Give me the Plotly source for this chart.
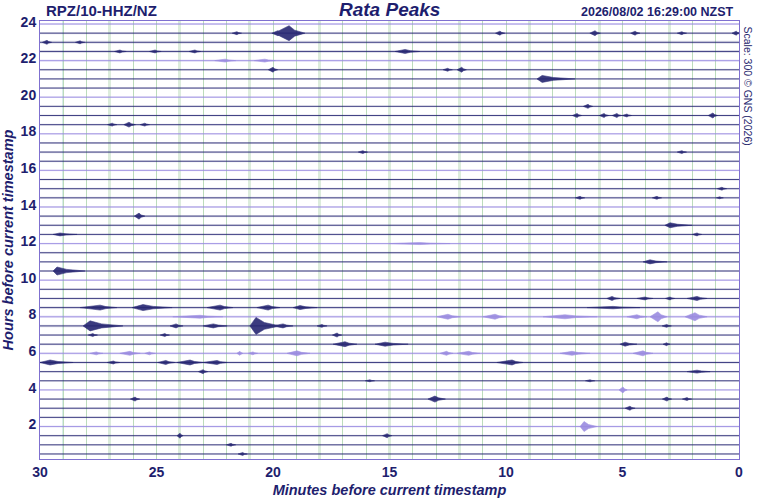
import plotly.graph_objects as go

# helicorder: 48 rows of 30 minutes, row 0 at the top (24 h ago)
n_rows = 48
row_hours = [23.875 - 0.5 * k for k in range(n_rows)]
row_colour = ["purple" if k % 4 == 0 else "navy" for k in range(n_rows)]

# background noise level per row (rough)
noise_level = [1.0, 1.2, 1.6, 1.6, 1.2, 1.0, 1.0, 1.0, 1.0, 1.0,
               1.1, 1.1, 1.0, 1.1, 1.2, 1.2, 1.0, 1.1, 1.1, 1.1,
               1.0, 1.2, 1.0, 1.1, 1.0, 1.2, 1.0, 1.1, 1.0, 1.0,
               1.1, 1.4, 1.4, 1.4, 1.1, 1.2, 1.3, 1.3, 1.1, 1.0,
               1.0, 1.1, 1.0, 1.1, 1.1, 1.1, 1.0, 1.0]

# events: row, start min, peak min, end min, amplitude (fraction of row gap)
ev_row = [1, 1, 1, 1, 1, 1, 1, 1,
          2, 2, 3, 3, 3, 3, 4, 4, 5, 5, 5, 6,
          9, 10, 10, 10, 10, 10, 11, 11, 11, 14, 14, 18, 19, 19, 19,
          21, 22, 23, 23, 24, 26, 27,
          30, 30, 30, 30,
          31, 31, 31, 31, 31, 31,
          32, 32, 32, 32, 32, 32, 32,
          33, 33, 33, 33, 33, 33, 33,
          34, 34, 34, 35, 35, 35, 35,
          36, 36, 36, 36, 36, 36, 36, 36, 36, 36,
          37, 37, 37, 37, 37, 37, 38, 38, 39, 39, 40,
          41, 41, 41, 41, 42, 44, 45, 45, 46, 47]
ev_start = [19.95, 20.05, 21.75, 10.45, 6.40, 4.65, 2.65, 0.30,
            29.90, 28.48, 26.80, 25.30, 23.60, 14.76, 22.50, 20.80, 20.20, 12.70, 12.10, 8.67,
            6.68, 7.15, 5.99, 5.44, 5.01, 1.32, 27.10, 26.40, 25.70, 16.34, 2.65, 0.93, 7.02, 3.72, 0.97,
            25.95, 3.18, 29.44, 2.00, 15.00, 4.12, 29.44,
            5.67, 4.38, 3.16, 2.23,
            28.28, 26.05, 22.83, 20.69, 19.14, 6.52,
            24.30, 12.96, 10.99, 8.41, 4.81, 3.82, 2.32,
            28.15, 20.99, 24.42, 23.00, 20.00, 18.11, 3.30,
            27.93, 24.84, 17.45, 17.42, 15.62, 5.11, 3.26,
            27.85, 26.57, 25.50, 21.55, 21.06, 19.40, 12.83, 12.10, 7.68, 4.55,
            30.00, 27.12, 24.94, 24.12, 23.00, 10.39, 23.20, 2.23, 16.04, 6.59, 5.15,
            26.12, 13.35, 3.29, 2.43, 4.89, 6.82, 24.12, 15.30, 22.00, 21.50]
ev_peak = [19.31, 19.79, 21.55, 10.26, 6.18, 4.46, 2.45, 0.12,
           29.70, 28.28, 26.57, 25.06, 23.35, 14.33, 22.05, 20.35, 20.00, 12.50, 11.90, 8.45,
           6.48, 6.95, 5.79, 5.24, 4.81, 1.12, 26.90, 26.18, 25.50, 16.14, 2.45, 0.73, 6.82, 3.52, 0.82,
           25.75, 2.96, 29.14, 1.80, 13.70, 3.82, 29.27,
           5.45, 4.03, 2.96, 1.80,
           27.42, 25.58, 22.27, 20.21, 18.84, 5.40,
           23.13, 12.49, 10.47, 7.47, 4.38, 3.48, 1.89,
           27.85, 20.73, 24.16, 22.56, 19.57, 17.90, 3.10,
           27.73, 24.64, 17.25, 16.91, 15.19, 4.89, 3.10,
           27.58, 26.14, 25.30, 21.42, 20.86, 18.97, 12.55, 11.60, 7.17, 4.12,
           29.57, 26.85, 24.60, 23.56, 22.40, 9.74, 23.00, 1.80, 15.84, 6.39, 4.98,
           25.92, 13.05, 3.09, 2.23, 4.68, 6.65, 23.99, 15.10, 21.80, 21.30]
ev_end = [18.63, 19.53, 21.35, 10.05, 5.95, 4.25, 2.25, -0.05,
          29.50, 28.08, 26.30, 24.80, 23.10, 13.70, 21.60, 19.90, 19.80, 12.30, 11.70, 7.04,
          6.28, 6.75, 5.59, 5.04, 4.61, 0.92, 26.70, 25.90, 25.30, 15.94, 2.25, 0.53, 6.62, 3.32, 0.67,
          25.50, 2.02, 28.41, 1.60, 12.40, 3.09, 28.07,
          5.11, 3.69, 2.76, 1.37,
          26.70, 24.33, 21.72, 19.70, 18.11, 4.25,
          22.15, 11.97, 9.96, 6.09, 3.95, 3.09, 1.37,
          26.44, 19.70, 23.86, 21.97, 19.14, 17.68, 2.90,
          27.53, 24.44, 17.05, 16.40, 14.20, 4.38, 2.96,
          27.30, 25.70, 25.05, 21.29, 20.66, 18.41, 12.27, 11.12, 6.39, 3.69,
          28.58, 26.57, 24.21, 23.00, 21.97, 9.27, 22.80, 1.24, 15.64, 6.19, 4.80,
          25.72, 12.60, 2.89, 2.03, 4.46, 6.10, 23.86, 14.90, 21.60, 21.10]
ev_amp = [0.82, 0.27, 0.16, 0.22, 0.27, 0.22, 0.16, 0.22,
          0.22, 0.16, 0.16, 0.16, 0.16, 0.22, 0.16, 0.16, 0.27, 0.16, 0.27, 0.38,
          0.22, 0.22, 0.22, 0.22, 0.16, 0.27, 0.16, 0.27, 0.16, 0.16, 0.16, 0.16, 0.16, 0.16, 0.11,
          0.33, 0.27, 0.16, 0.16, 0.11, 0.22, 0.44,
          0.22, 0.16, 0.16, 0.22,
          0.27, 0.33, 0.27, 0.27, 0.22, 0.13,
          0.16, 0.27, 0.27, 0.22, 0.22, 0.55, 0.44,
          0.55, 0.93, 0.22, 0.22, 0.22, 0.16, 0.16,
          0.16, 0.16, 0.22, 0.27, 0.22, 0.22, 0.16,
          0.16, 0.22, 0.16, 0.22, 0.16, 0.27, 0.22, 0.22, 0.22, 0.27,
          0.27, 0.16, 0.22, 0.27, 0.22, 0.27, 0.22, 0.16, 0.11, 0.11, 0.33,
          0.22, 0.33, 0.22, 0.16, 0.22, 0.55, 0.27, 0.22, 0.16, 0.16]

x_ticks = [30, 25, 20, 15, 10, 5, 0]
y_ticks = [2, 4, 6, 8, 10, 12, 14, 16, 18, 20, 22, 24]
marker_minutes = [29]

NAVY = "#1e1e6e"
colours = {"navy": "#262672", "purple": "#9a8be0"}
bands = {"navy": "rgba(40,40,120,0.14)", "purple": "rgba(140,125,220,0.2)"}
gap = 0.5

fig = go.Figure()

# noise band + baseline for each row
for k in range(n_rows):
    c = row_colour[k]
    h = row_hours[k]
    fig.add_trace(go.Scatter(x=[30, 0], y=[h, h], mode="lines",
                             line=dict(color=bands[c], width=1.8 * noise_level[k]),
                             hoverinfo="skip", showlegend=False))
    fig.add_trace(go.Scatter(x=[30, 0], y=[h, h], mode="lines",
                             line=dict(color=colours[c], width=0.85),
                             hoverinfo="skip", showlegend=False))

# events as envelopes
for c in ["navy", "purple"]:
    xs, ys = [], []
    for r, s, p, e, a in zip(ev_row, ev_start, ev_peak, ev_end, ev_amp):
        if row_colour[r] != c:
            continue
        h = row_hours[r]
        amp = a * gap
        mid = p - 0.35 * (p - e)
        xs += [s, p, mid, e, mid, p, s, None]
        ys += [h, h + amp, h + amp * 0.4, h, h - amp * 0.4, h - amp, h, None]
    fig.add_trace(go.Scatter(x=xs, y=ys, mode="lines", fill="toself",
                             fillcolor=colours[c], opacity=0.9,
                             line=dict(color=colours[c], width=0.6),
                             hoverinfo="skip", showlegend=False))

# 3-minute pale bands on a second axis
fig.add_trace(go.Scatter(x=[30, 0], y=[None, None], xaxis="x2", showlegend=False))

for m in marker_minutes:
    fig.add_vline(x=m, line=dict(color="#3f9f98", width=1), layer="below")

fig.update_layout(
    width=760, height=500,
    margin=dict(l=40, r=21, t=21, b=41),
    paper_bgcolor="white", plot_bgcolor="white",
    font=dict(family="Liberation Sans, Arial, sans-serif", color=NAVY),
    xaxis=dict(range=[30, 0], tickvals=x_ticks, ticks="", showgrid=False, automargin=False,
               zeroline=False, showline=True, linecolor="#7f70d0", linewidth=1, mirror=True,
               minor=dict(dtick=1, showgrid=True, gridcolor="#bcdcbc", gridwidth=1),
               tickfont=dict(size=14, color=NAVY, weight="bold"),
               title=dict(text="<b><i>Minutes before current timestamp</i></b>",
                          font=dict(size=14.5, color=NAVY), standoff=6)),
    xaxis2=dict(range=[30, 0], overlaying="x", dtick=3, tick0=0, showgrid=True,
                gridcolor="#dcecdc", gridwidth=3, showticklabels=False, ticks="",
                zeroline=False, layer="below traces", automargin=False),
    yaxis=dict(range=[0.1, 24.04], tickvals=y_ticks, ticks="", showgrid=False, automargin=False,
               zeroline=False, showline=True, linecolor="#7f70d0", linewidth=1, mirror=True,
               tickfont=dict(size=14, color=NAVY, weight="bold"),
               title=dict(text="<b><i>Hours before current timestamp</i></b>",
                          font=dict(size=14.5, color=NAVY), standoff=3)),
    annotations=[
        dict(text="<b>RPZ/10-HHZ/NZ</b>", x=0, y=1.0, xref="paper", yref="paper",
             xanchor="left", yanchor="bottom", xshift=4, yshift=0, showarrow=False,
             font=dict(size=15, color=NAVY)),
        dict(text="<b><i>Rata Peaks</i></b>", x=0.5, y=1.0, xref="paper", yref="paper",
             xanchor="center", yanchor="bottom", yshift=-1, showarrow=False,
             font=dict(size=19, color=NAVY)),
        dict(text="<b>2026/08/02 16:29:00 NZST</b>", x=1.0, y=1.0, xref="paper", yref="paper",
             xanchor="right", yanchor="bottom", xshift=-3, yshift=0, showarrow=False,
             font=dict(size=12.5, color=NAVY)),
        dict(text="Scale: 300 © GNS (2026)", x=1.0, y=1.0, xref="paper", yref="paper",
             xanchor="left", yanchor="top", xshift=1, yshift=-3, textangle=90,
             showarrow=False, font=dict(size=10.5, color="#2a2a70")),
    ],
)

# the page has a default 8px body margin; drop it so the figure sits at 0,0
fig.write_html("out.html", config={"displayModeBar": False},
               post_script="document.body.style.margin='0';")
